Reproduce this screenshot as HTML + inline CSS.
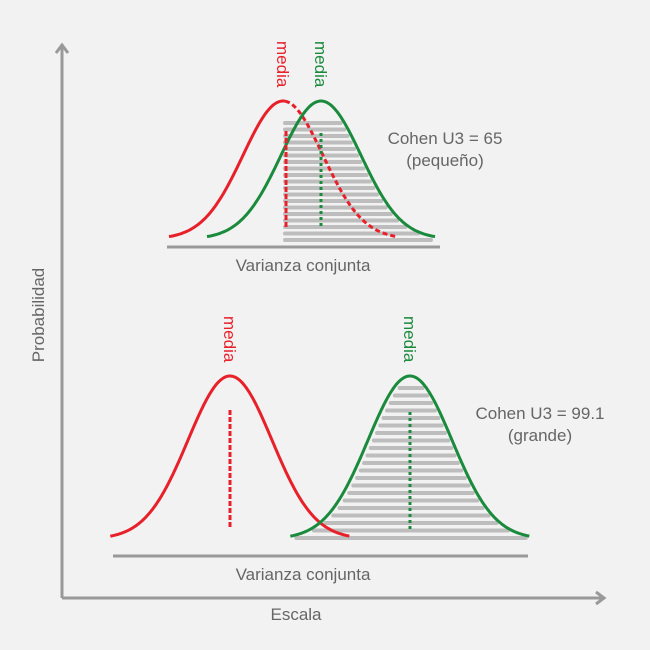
<!DOCTYPE html>
<html><head><meta charset="utf-8"><style>
body{margin:0;background:#f2f2f2}
svg{display:block;font-family:"Liberation Sans",sans-serif}
</style></head><body>
<svg id="c" width="650" height="650" viewBox="0 0 650 650">
<rect width="650" height="650" fill="#f2f2f2"/>
<g><line x1="62" y1="598" x2="62" y2="47" stroke="#999" stroke-width="3"/><path d="M56,53 L62,45 L68,53" fill="none" stroke="#999" stroke-width="3"/></g>
<g><line x1="62" y1="598" x2="602" y2="598" stroke="#999" stroke-width="3"/><path d="M596,592 L604,598 L596,604" fill="none" stroke="#999" stroke-width="3"/></g>
<text x="44" y="315" transform="rotate(-90 44 315)" text-anchor="middle" font-size="17" fill="#666">Probabilidad</text>
<text x="296" y="620" text-anchor="middle" font-size="17" fill="#666">Escala</text>
<g id="plots"></g>
</svg>
<script>
const panelNames = ['small-effect', 'large-effect'];
const redMeans = [283, 230];
const greenMeans = [321, 410];
const sds = [40, 42];
const peakY = [101, 376];
const baseY = [239, 539];
const axisLineY = [247, 556];
const axisLineX0 = [167, 113];
const axisLineX1 = [440, 528];
const labels = ['Cohen U3 = 65|(pequeño)', 'Cohen U3 = 99.1|(grande)'];
const labelX = [445, 540];
const labelY = [144, 419];
const NS = 'http://www.w3.org/2000/svg';
const root = document.getElementById('plots');
function mk(tag, attrs, parent) { const e = document.createElementNS(NS, tag); for (const k in attrs) e.setAttribute(k, attrs[k]); parent.appendChild(e); return e; }
function yAt(p, m, x) { const g = Math.exp(-0.5 * Math.pow((x - m) / sds[p], 2)); return baseY[p] - (baseY[p] - peakY[p]) * g; }
function curve(p, m, x0, x1) { let d = ''; for (let x = x0; x <= x1; x += 1) d += (d ? 'L' : 'M') + x + ',' + yAt(p, m, x).toFixed(1); return d; }
for (let p = 0; p < 2; p++) {
  const g = mk('g', {}, root);
  
  
  const span = sds[p] * 2.85;
  const rm = redMeans[p], gm = greenMeans[p];
  const hatch = mk('g', {}, g);
  
  
  for (let y = peakY[p] + (p === 0 ? 22 : 12); y <= baseY[p] + 4; y += (p === 0 ? 6.5 : 7.5)) {
    const h = (baseY[p] - y) / (baseY[p] - peakY[p]);
    let off = h > 0.02 ? sds[p] * Math.sqrt(-2 * Math.log(h)) : span;
    off = Math.min(off, span);
    let xl = p === 0 ? rm + 2 : gm - off + 6;
    let xr = gm + off - 4;
    if (xr - xl < 4) continue;
    const l = mk('line', { x1: xl, x2: xr, y1: y, y2: y, stroke: '#bdbdbd', 'stroke-width': 4, 'stroke-linecap': 'round' }, hatch);
    
    
  }
  const base = mk('line', { x1: axisLineX0[p], x2: axisLineX1[p], y1: axisLineY[p], y2: axisLineY[p], stroke: '#999', 'stroke-width': 3 }, g);
  
  
  if (p === 0) {
    const a = mk('path', { d: curve(p, rm, rm - span, rm + 2), fill: 'none', stroke: '#e8202a', 'stroke-width': 3 }, g);
    
    
    const b = mk('path', { d: curve(p, rm, rm + 2, rm + span), fill: 'none', stroke: '#e8202a', 'stroke-width': 3, 'stroke-dasharray': '5 3' }, g);
    
    
  } else {
    const a = mk('path', { d: curve(p, rm, rm - span, rm + span), fill: 'none', stroke: '#e8202a', 'stroke-width': 3 }, g);
    
    
  }
  const gc = mk('path', { d: curve(p, gm, gm - span, gm + span), fill: 'none', stroke: '#1a8a3c', 'stroke-width': 3 }, g);
  
  
  const ry0 = p === 0 ? peakY[p] + 30 : peakY[p] + 34;
  const rl = mk('line', { x1: rm + (p === 0 ? 3 : 0), x2: rm + (p === 0 ? 3 : 0), y1: ry0, y2: baseY[p] - 12, stroke: '#e8202a', 'stroke-width': 3, 'stroke-dasharray': '5 2' }, g);
  
  
  const gl = mk('line', { x1: gm, x2: gm, y1: ry0 + 2, y2: baseY[p] - 10, stroke: '#1a8a3c', 'stroke-width': 3, 'stroke-dasharray': '3 3' }, g);
  
  
  [[rm, '#e8202a', 'red'], [gm, '#1a8a3c', 'green']].forEach(([x, c, n]) => {
    const t = mk('text', { x: 0, y: 0, transform: 'translate(' + (x - 6) + ',' + (peakY[p] - 60) + ') rotate(90)', 'font-size': 17, fill: c }, g);
    t.textContent = 'media';
    
    
  });
  const vt = mk('text', { x: 303, y: axisLineY[p] + 24, 'text-anchor': 'middle', 'font-size': 17, fill: '#666' }, g);
  vt.textContent = 'Varianza conjunta';
  
  
  const parts = labels[p].split('|');
  parts.forEach((s, i) => {
    const t = mk('text', { x: labelX[p], y: labelY[p] + i * 22, 'text-anchor': 'middle', 'font-size': 17, fill: '#666' }, g);
    t.textContent = s;
    
    
  });
}
</script>
</body></html>
